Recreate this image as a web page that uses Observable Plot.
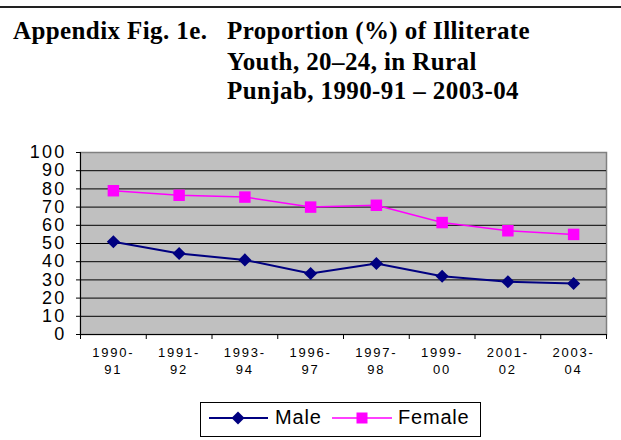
<!DOCTYPE html>
<html>
<head>
<meta charset="utf-8">
<script src="https://cdn.jsdelivr.net/npm/d3@7"></script>
<script src="https://cdn.jsdelivr.net/npm/@observablehq/plot@0.6"></script>
<style>
  html, body { margin: 0; padding: 0; background: #fff; }
  #page { position: relative; width: 621px; height: 440px; overflow: hidden; }
  #topline { position: absolute; left: 0; top: 6px; width: 621px; height: 2px; background: #222; }
  .title { position: absolute; font-family: "Liberation Serif", "Times New Roman", serif; font-weight: bold; font-size: 25px; letter-spacing: 0.4px; color: #000; white-space: nowrap; line-height: 30px; }
  #chart { position: absolute; left: 0; top: 0; }
  #legend { position: absolute; left: 200px; top: 402px; width: 279px; height: 33px; border: 1px solid #000; background: #fff;
            font-family: "Liberation Sans", Arial, sans-serif; font-size: 20px; letter-spacing: 0.8px; }
  #legend .item { position: absolute; top: 0; height: 28px; line-height: 28px; }
  #legend svg { position: absolute; top: 0; left: 0; }
  #chart svg g[aria-label="x-axis tick label"] text { letter-spacing: 1.8px; }
  #chart svg g[aria-label="text"] text { letter-spacing: 2.2px; }
</style>
</head>
<body>
<div id="page">
  <div id="topline"></div>
  <div class="title" style="left:13px; top:16px;">Appendix Fig. 1e.</div>
  <div class="title" style="left:227px; top:16px;">Proportion (%) of Illiterate</div>
  <div class="title" style="left:227px; top:47px;">Youth, 20–24, in Rural</div>
  <div class="title" style="left:227px; top:76px;">Punjab, 1990-91 – 2003-04</div>
  <div id="chart"></div>
  <div id="legend">
    <svg width="279" height="33">
      <line x1="8" x2="67" y1="15" y2="15" stroke="#000080" stroke-width="2"></line>
      <path d="M37,8.5 L43.5,15 L37,21.5 L30.5,15 Z" fill="#000080"></path>
      <line x1="131" x2="191" y1="15" y2="15" stroke="#FF00FF" stroke-width="1.5"></line>
      <rect x="155.5" y="9.5" width="11" height="11" fill="#FF00FF"></rect>
    </svg>
    <div class="item" style="left:74px;">Male</div>
    <div class="item" style="left:197px;">Female</div>
  </div>
</div>
<script>
const periods = ["1990-\n91", "1991-\n92", "1993-\n94", "1996-\n97", "1997-\n98", "1999-\n00", "2001-\n02", "2003-\n04"];
const male   = [51, 44.5, 41, 33.5, 39, 32, 29, 28];
const female = [79, 76.5, 75.5, 70, 71, 61.5, 57, 55];
const yTicks = [0, 10, 20, 30, 40, 50, 60, 70, 80, 90, 100];

const idx = periods.map((_, i) => i);
const boundaries = periods.map((_, i) => i - 0.5).concat([periods.length - 0.5]);
const maleData = idx.map(i => ({i, v: male[i]}));
const femaleData = idx.map(i => ({i, v: female[i]}));

const chart = Plot.plot({
  width: 621,
  height: 390,
  marginTop: 152,
  marginBottom: 56,
  marginLeft: 80,
  marginRight: 15,
  style: { fontFamily: "'Liberation Sans', Arial, sans-serif", color: "#000", background: "transparent", overflow: "visible" },
  x: { type: "linear", domain: [-0.5, periods.length - 0.5] },
  y: { domain: [0, 100] },
  marks: [
    Plot.frame({ fill: "#C0C0C0", stroke: "#808080", strokeWidth: 1.5 }),
    Plot.ruleY(yTicks.filter(t => t > 0 && t < 100), { stroke: "#000", strokeWidth: 1 }),
    Plot.axisY({ ticks: yTicks, tickSize: 4, tickFormat: () => "", label: null, stroke: "#000" }),
    Plot.text(yTicks, { x: () => -0.5, y: d => d, text: d => String(d), textAnchor: "end", dx: -14, fontSize: 18, fill: "#000" }),
    Plot.axisX({ ticks: boundaries, tickSize: 5, tickFormat: () => "", label: null, stroke: "#000" }),
    Plot.axisX({ ticks: idx, tickSize: 0, tickPadding: 11, tickFormat: i => periods[i], fontSize: 13, lineHeight: 1.28, label: null }),
    Plot.ruleX([-0.5], { stroke: "#000", strokeWidth: 1 }),
    Plot.ruleY([0], { stroke: "#000", strokeWidth: 1 }),
    Plot.line(maleData, { x: "i", y: "v", stroke: "#000080", strokeWidth: 2 }),
    Plot.line(femaleData, { x: "i", y: "v", stroke: "#FF00FF", strokeWidth: 1.5 }),
    Plot.dot(maleData, { x: "i", y: "v", symbol: "diamond2", r: 5.9, fill: "#000080", stroke: null }),
    Plot.dot(femaleData, { x: "i", y: "v", symbol: "square2", r: 7.3, fill: "#FF00FF", stroke: null })
  ]
});
document.getElementById("chart").appendChild(chart);
</script>
</body>
</html>
